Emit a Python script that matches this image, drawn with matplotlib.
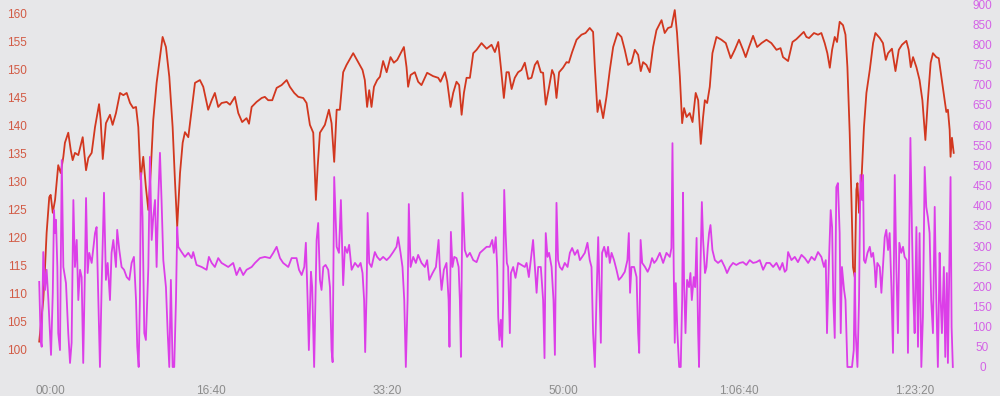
import numpy as np
import matplotlib
matplotlib.use("Agg")
import matplotlib.pyplot as plt
from matplotlib.ticker import FixedLocator

# heart rate (bpm) against elapsed seconds
hr_t = [24, 47, 57, 66, 81, 89, 101, 114, 132, 146, 161, 170, 189, 203, 214, 227, 246, 271, 290, 303,
        322, 341, 364, 373, 385, 403, 426, 441, 460, 483, 502, 521, 540, 558, 574, 587, 600, 615, 630, 644,
        657, 672, 691, 710, 725, 744, 763, 782, 795, 808, 824, 839, 852, 871, 890, 909, 937, 956, 984, 1004,
        1022, 1041, 1060, 1089, 1108, 1136, 1155, 1177, 1202, 1216, 1231, 1259, 1288, 1306, 1325, 1348, 1373, 1401, 1430, 1448,
        1473, 1496, 1524, 1543, 1562, 1581, 1596, 1606, 1619, 1647, 1670, 1685, 1700, 1714, 1732, 1751, 1770, 1808, 1836, 1861,
        1874, 1887, 1899, 1912, 1926, 1944, 1960, 1978, 1998, 2020, 2039, 2058, 2073, 2096, 2111, 2120, 2134, 2158, 2177, 2196,
        2228, 2262, 2291, 2304, 2329, 2342, 2361, 2376, 2395, 2410, 2424, 2437, 2452, 2471, 2490, 2509, 2537, 2566, 2594, 2613,
        2632, 2647, 2664, 2679, 2692, 2708, 2726, 2745, 2764, 2783, 2802, 2821, 2840, 2855, 2874, 2887, 2902, 2920, 2938, 2950,
        2963, 2978, 3000, 3020, 3033, 3052, 3077, 3105, 3128, 3152, 3171, 3181, 3196, 3209, 3228, 3247, 3266, 3285, 3310, 3332,
        3351, 3370, 3389, 3408, 3427, 3442, 3455, 3474, 3493, 3512, 3531, 3560, 3578, 3597, 3616, 3635, 3648, 3664, 3677, 3688,
        3702, 3720, 3736, 3754, 3768, 3783, 3796, 3806, 3819, 3834, 3849, 3872, 3900, 3925, 3953, 3976, 4000, 4023, 4038, 4057,
        4080, 4103, 4128, 4156, 4184, 4213, 4236, 4250, 4279, 4304, 4326, 4345, 4368, 4383, 4398, 4426, 4449, 4468, 4487, 4502,
        4516, 4529, 4544, 4557, 4572, 4591, 4605, 4616, 4629, 4639, 4648, 4658, 4667, 4673, 4682, 4696, 4710, 4724, 4743, 4762,
        4775, 4800, 4818, 4834, 4847, 4869, 4889, 4908, 4926, 4951, 4964, 4976, 4989, 5008, 5026, 5042, 5059, 5073, 5089, 5102,
        5121, 5135, 5150, 5169, 5178, 5187, 5197, 5202, 5210, 5220]
hr_bpm = [101.5, 108.9, 114.8, 120.9, 127.3, 127.7, 124.5, 126.8, 133.0, 131.6, 134.5, 137.0, 138.8, 135.7, 133.9, 135.2, 134.8, 138.0, 132.1, 134.3,
          135.2, 139.8, 143.9, 141.1, 134.1, 140.5, 142.0, 140.2, 142.3, 145.9, 145.5, 145.9, 144.1, 143.2, 143.4, 139.8, 130.4, 134.5, 129.1, 125.0,
          131.6, 141.1, 147.7, 152.3, 155.9, 154.1, 148.8, 139.8, 130.4, 122.0, 131.6, 137.0, 138.9, 138.0, 142.9, 147.7, 148.2, 147.0, 142.9, 144.6,
          145.9, 143.4, 144.1, 144.3, 143.8, 145.2, 142.3, 140.7, 141.4, 140.4, 143.4, 144.3, 145.0, 145.2, 144.6, 144.6, 146.8, 147.3, 148.2, 147.0,
          145.9, 145.2, 145.0, 144.1, 140.2, 138.8, 126.8, 132.7, 138.8, 140.2, 142.9, 140.5, 133.6, 142.9, 142.9, 149.6, 150.9, 153.0, 151.4, 150.0,
          148.2, 143.4, 146.4, 143.4, 147.0, 148.2, 148.8, 151.6, 149.6, 152.3, 151.3, 151.8, 152.7, 154.1, 150.5, 147.0, 149.1, 149.6, 147.9, 147.3,
          149.5, 148.9, 148.6, 147.9, 149.6, 147.9, 143.4, 145.9, 147.9, 147.3, 142.0, 145.9, 148.6, 148.6, 153.0, 153.6, 154.8, 153.8, 154.5, 153.2,
          155.0, 150.5, 145.0, 149.6, 149.6, 146.6, 148.6, 149.6, 150.0, 151.3, 148.4, 148.6, 150.9, 151.6, 149.6, 149.5, 143.8, 146.8, 150.0, 149.1,
          145.0, 149.6, 150.4, 151.4, 151.3, 153.2, 155.4, 156.3, 156.6, 157.5, 156.8, 150.5, 142.5, 144.6, 141.4, 145.2, 150.0, 154.1, 156.6, 155.9,
          153.6, 150.9, 151.3, 153.6, 152.7, 149.8, 151.4, 150.9, 149.6, 154.1, 157.1, 158.9, 156.6, 157.5, 157.7, 160.7, 156.6, 148.8, 140.5, 143.2,
          141.6, 142.3, 140.7, 145.9, 144.6, 136.8, 141.6, 144.6, 144.1, 147.0, 153.0, 155.9, 155.4, 154.8, 152.1, 153.6, 155.4, 153.6, 152.3, 154.1,
          156.1, 154.1, 154.8, 155.4, 154.8, 153.6, 153.9, 152.3, 151.6, 155.0, 155.5, 156.1, 156.8, 155.9, 155.7, 156.6, 156.3, 156.6, 154.8, 153.0,
          150.4, 153.6, 155.9, 155.0, 158.6, 158.0, 156.3, 150.5, 138.8, 126.8, 114.8, 113.0, 128.6, 129.8, 124.5, 130.4, 139.8, 145.9, 150.0, 154.8,
          156.6, 155.7, 154.8, 151.8, 153.0, 153.8, 149.8, 153.6, 154.5, 155.2, 153.6, 150.5, 152.3, 150.5, 148.2, 144.6, 137.5, 144.6, 151.3, 153.0,
          152.3, 152.1, 148.8, 144.6, 142.5, 142.9, 139.3, 134.5, 137.9, 135.2]

# power (W) against elapsed seconds
pw_t = [24, 32, 38, 47, 57, 66, 76, 85, 91, 101, 108, 114, 119, 127, 132, 142, 152, 161, 176, 189,
        199, 208, 218, 227, 237, 246, 256, 265, 274, 284, 290, 299, 308, 322, 341, 350, 360, 369, 379, 392,
        403, 413, 426, 435, 445, 460, 467, 479, 492, 506, 521, 536, 549, 562, 574, 581, 589, 596, 602, 611,
        621, 630, 644, 653, 663, 672, 682, 691, 700, 710, 719, 729, 744, 754, 763, 772, 782, 791, 801, 808,
        814, 833, 852, 871, 890, 899, 918, 947, 975, 988, 1004, 1022, 1041, 1060, 1079, 1098, 1126, 1145, 1164, 1183,
        1202, 1231, 1250, 1278, 1306, 1335, 1354, 1373, 1392, 1410, 1439, 1458, 1486, 1500, 1515, 1530, 1539, 1549, 1556, 1568,
        1575, 1586, 1600, 1609, 1619, 1628, 1638, 1651, 1666, 1676, 1685, 1691, 1700, 1714, 1727, 1738, 1751, 1761, 1774, 1785,
        1799, 1818, 1836, 1850, 1861, 1870, 1876, 1884, 1890, 1899, 1912, 1931, 1944, 1960, 1978, 1998, 2016, 2035, 2054, 2063,
        2077, 2088, 2098, 2107, 2117, 2124, 2134, 2149, 2164, 2177, 2196, 2215, 2228, 2240, 2259, 2278, 2293, 2300, 2310, 2323,
        2338, 2350, 2355, 2363, 2372, 2382, 2395, 2407, 2414, 2420, 2429, 2442, 2455, 2471, 2490, 2509, 2528, 2546, 2566, 2584,
        2598, 2607, 2618, 2626, 2632, 2639, 2647, 2654, 2660, 2666, 2674, 2681, 2688, 2698, 2704, 2717, 2730, 2745, 2764, 2783,
        2793, 2806, 2817, 2830, 2840, 2850, 2859, 2874, 2887, 2895, 2902, 2912, 2921, 2935, 2946, 2954, 2963, 2972, 2982, 2995,
        3010, 3026, 3039, 3052, 3067, 3083, 3096, 3109, 3124, 3139, 3152, 3162, 3171, 3181, 3190, 3200, 3209, 3215, 3222, 3234,
        3247, 3256, 3266, 3276, 3290, 3304, 3317, 3332, 3351, 3366, 3374, 3381, 3389, 3404, 3418, 3427, 3433, 3441, 3450, 3466,
        3481, 3493, 3506, 3518, 3531, 3550, 3569, 3588, 3607, 3616, 3622, 3629, 3635, 3641, 3650, 3660, 3669, 3677, 3682, 3688,
        3696, 3705, 3716, 3724, 3732, 3743, 3751, 3759, 3768, 3773, 3781, 3789, 3796, 3807, 3815, 3823, 3830, 3838, 3849, 3863,
        3881, 3900, 3919, 3932, 3948, 3966, 3985, 4004, 4023, 4042, 4061, 4080, 4099, 4118, 4137, 4156, 4175, 4194, 4213, 4232,
        4247, 4260, 4270, 4279, 4298, 4317, 4335, 4355, 4374, 4393, 4412, 4430, 4449, 4468, 4483, 4493, 4500, 4510, 4521, 4529,
        4536, 4544, 4553, 4562, 4572, 4578, 4585, 4597, 4605, 4616, 4629, 4642, 4652, 4658, 4663, 4673, 4682, 4690, 4699, 4705,
        4710, 4718, 4730, 4743, 4752, 4762, 4771, 4777, 4786, 4800, 4809, 4818, 4828, 4837, 4847, 4856, 4866, 4875, 4885, 4894,
        4903, 4911, 4922, 4932, 4941, 4953, 4960, 4974, 4983, 4991, 4998, 5008, 5017, 5026, 5036, 5045, 5055, 5064, 5073, 5083,
        5092, 5102, 5112, 5121, 5130, 5140, 5146, 5153, 5164, 5172, 5181, 5187, 5194, 5202, 5208, 5215]
pw_watts = [211, 67, 50, 285, 191, 241, 166, 84, 30, 184, 389, 332, 365, 248, 84, 42, 513, 248, 208, 84,
            10, 60, 414, 248, 315, 166, 241, 223, 10, 248, 419, 233, 283, 258, 332, 347, 166, 0, 208, 432,
            216, 258, 166, 283, 315, 248, 340, 290, 248, 241, 223, 216, 258, 273, 166, 50, 0, 166, 481, 372,
            84, 67, 248, 521, 315, 372, 414, 248, 414, 531, 414, 265, 198, 84, 0, 216, 0, 0, 166, 347,
            298, 285, 273, 283, 270, 285, 253, 248, 241, 273, 258, 248, 270, 258, 253, 248, 258, 228, 246, 228,
            241, 248, 258, 270, 273, 270, 283, 298, 270, 258, 248, 270, 270, 241, 228, 248, 308, 166, 42, 236,
            198, 0, 315, 357, 216, 191, 248, 253, 241, 198, 42, 12, 471, 298, 283, 414, 203, 298, 283, 303,
            241, 258, 248, 258, 233, 166, 37, 184, 382, 258, 248, 285, 273, 265, 273, 265, 273, 285, 298, 322,
            283, 248, 166, 0, 166, 404, 248, 273, 258, 278, 258, 248, 265, 216, 233, 248, 315, 248, 191, 241,
            258, 166, 50, 335, 248, 273, 270, 248, 166, 25, 432, 290, 273, 283, 265, 260, 283, 290, 298, 298,
            315, 283, 322, 248, 124, 67, 117, 50, 166, 439, 332, 258, 248, 84, 233, 248, 221, 258, 253, 248,
            258, 223, 265, 315, 248, 184, 248, 248, 166, 22, 332, 273, 283, 248, 166, 30, 407, 265, 248, 241,
            258, 248, 283, 295, 278, 290, 265, 273, 283, 308, 265, 248, 84, 0, 166, 322, 166, 60, 283, 298,
            273, 298, 258, 283, 265, 241, 216, 223, 236, 265, 332, 184, 248, 248, 223, 84, 35, 315, 258, 248,
            236, 248, 270, 258, 265, 283, 258, 283, 273, 295, 555, 248, 60, 208, 84, 0, 0, 166, 432, 208,
            84, 216, 198, 233, 166, 223, 198, 320, 84, 0, 248, 409, 315, 233, 248, 298, 332, 352, 290, 265,
            258, 265, 248, 233, 248, 258, 253, 258, 260, 253, 265, 258, 260, 265, 241, 258, 258, 248, 258, 241,
            258, 236, 241, 285, 265, 273, 260, 278, 270, 258, 273, 265, 285, 273, 248, 265, 84, 248, 389, 347,
            166, 72, 446, 456, 332, 84, 248, 191, 166, 0, 0, 0, 42, 233, 84, 0, 166, 476, 414, 476,
            265, 258, 283, 298, 273, 283, 248, 198, 258, 248, 184, 248, 322, 340, 290, 332, 198, 35, 476, 248,
            84, 308, 283, 298, 273, 265, 35, 568, 332, 166, 84, 347, 50, 332, 0, 124, 496, 397, 372, 332,
            166, 84, 397, 166, 0, 283, 166, 84, 248, 25, 233, 10, 216, 471, 99, 0]

tick_secs = [0, 1000, 2000, 3000, 4000, 5000]
tick_text = ['00:00', '16:40', '33:20', '50:00', '1:06:40', '1:23:20']
hr_ticks = [100, 105, 110, 115, 120, 125, 130, 135, 140, 145, 150, 155, 160]
pw_ticks = list(range(0, 901, 50))

bg = '#e7e7e9'
plt.rcParams.update({
    'font.family': ['Liberation Sans', 'DejaVu Sans'],
    'font.size': 8.5,
})

fig = plt.figure(figsize=(10, 3.96), dpi=100, facecolor=bg)
ax = fig.add_axes([0.035, 1 - 372/396, 0.921, 370/396])
ax.set_facecolor(bg)
ax2 = ax.twinx()

ax.plot(hr_t, hr_bpm, color='#d2371f', lw=1.3, solid_joinstyle='round')
ax2.plot(pw_t, pw_watts, color='#dc3ee8', lw=1.3, solid_joinstyle='round')

ax.set_xlim(0, 5233)
ax.set_ylim(96.07, 162.14)
ax2.set_ylim(-12.4, 905)

for a in (ax, ax2):
    for s in a.spines.values():
        s.set_visible(False)

ax.xaxis.set_major_locator(FixedLocator(tick_secs))
ax.set_xticklabels(tick_text)
ax.get_xticklabels()[0].set_horizontalalignment('left')
ax.tick_params(axis='x', length=0, pad=9, labelcolor='#8c8c8c')
ax.yaxis.set_major_locator(FixedLocator(hr_ticks))
ax.tick_params(axis='y', length=0, pad=6, labelcolor='#d25a44')
ax2.yaxis.set_major_locator(FixedLocator(pw_ticks))
ax2.tick_params(axis='y', length=0, pad=19, labelcolor='#d463e6')
for lab in ax2.get_yticklabels():
    lab.set_horizontalalignment('center')

fig.savefig('out.png', dpi=100, facecolor=bg)
